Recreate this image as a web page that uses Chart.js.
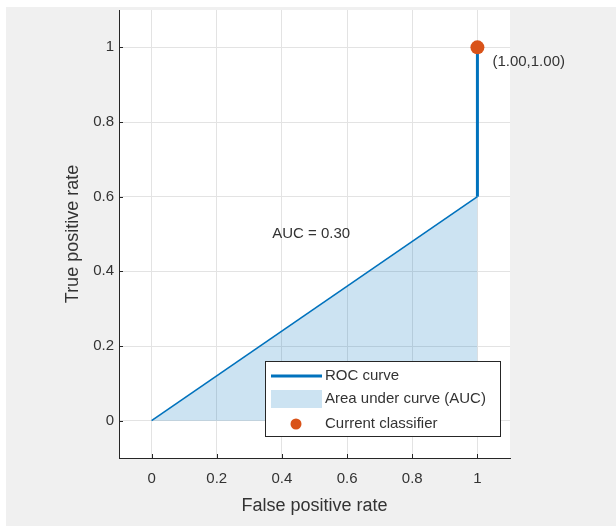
<!DOCTYPE html>
<html>
<head>
<meta charset="utf-8">
<script src="https://cdn.jsdelivr.net/npm/chart.js@4/dist/chart.umd.min.js"></script>
<style>
  html, body { margin: 0; padding: 0; background: #fff; }
  canvas { display: block; }
</style>
</head>
<body>
<canvas id="roc-chart" width="616" height="526"></canvas>
<script>
// ROC data
const fpr = [0, 1, 1];
const tpr = [0, 0.6, 1];

// current classifier point
const classifierX = [1];
const classifierY = [1];

const aucValue = 0.30;

// ticks
const tickValues = [0, 0.2, 0.4, 0.6, 0.8, 1];
const tickLabels = ["0", "0.2", "0.4", "0.6", "0.8", "1"];

const legendLabels = ["ROC curve", "Area under curve (AUC)", "Current classifier"];

const fontFamily = '"Liberation Sans", Arial, sans-serif';
const textColor = '#333333';
const blue = '#0072BD';
const areaColor = 'rgba(0, 114, 189, 0.2)';
const orange = '#D95319';

// figure background, white axes box, legend and text annotations
const matlabLook = {
    id: 'matlabLook',
    beforeDraw(chart) {
        const {ctx, chartArea} = chart;
        ctx.save();
        ctx.fillStyle = '#ffffff';
        ctx.fillRect(0, 0, chart.width, chart.height);
        ctx.fillStyle = '#f0f0f0';
        ctx.fillRect(6, 7, chart.width - 6, chart.height - 7);
        ctx.fillStyle = '#ffffff';
        ctx.fillRect(chartArea.left, chartArea.top, chartArea.right - chartArea.left, chartArea.bottom - chartArea.top);
        ctx.restore();
    },
    afterDraw(chart) {
        const {ctx, chartArea, scales} = chart;
        const x = scales.x, y = scales.y;
        ctx.save();

        // inward tick marks
        ctx.strokeStyle = '#262626';
        ctx.lineWidth = 1;
        ctx.beginPath();
        tickValues.forEach(v => {
            const py = Math.round(y.getPixelForValue(v)) + 0.5;
            ctx.moveTo(chartArea.left, py);
            ctx.lineTo(chartArea.left + 4, py);
            const px = Math.round(x.getPixelForValue(v)) + 0.5;
            ctx.moveTo(px, chartArea.bottom);
            ctx.lineTo(px, chartArea.bottom - 4);
        });
        ctx.stroke();

        // text annotations
        ctx.font = '15px ' + fontFamily;
        ctx.fillStyle = textColor;
        ctx.textBaseline = 'middle';
        ctx.textAlign = 'left';
        ctx.fillText('AUC = ' + aucValue.toFixed(2),
            x.getPixelForValue(0.37), y.getPixelForValue(0.5));
        const cx = x.getPixelForValue(classifierX[0]);
        const cy = y.getPixelForValue(classifierY[0]);
        ctx.fillText('(' + classifierX[0].toFixed(2) + ',' + classifierY[0].toFixed(2) + ')', cx + 15, cy + 15);

        // legend box
        const lx = 265, ly = 361, lw = 235, lh = 75;
        ctx.fillStyle = '#ffffff';
        ctx.fillRect(lx, ly, lw, lh);
        ctx.strokeStyle = '#262626';
        ctx.strokeRect(lx + 0.5, ly + 0.5, lw, lh);

        const rows = [ly + 15, ly + 38, ly + 63];
        // line sample
        ctx.strokeStyle = blue;
        ctx.lineWidth = 3;
        ctx.beginPath();
        ctx.moveTo(lx + 6, rows[0]);
        ctx.lineTo(lx + 57, rows[0]);
        ctx.stroke();
        // area sample
        ctx.fillStyle = areaColor;
        ctx.fillRect(lx + 6, rows[1] - 9, 51, 18);
        // marker sample
        ctx.fillStyle = orange;
        ctx.beginPath();
        ctx.arc(lx + 31, rows[2], 5.5, 0, Math.PI * 2);
        ctx.fill();

        ctx.fillStyle = textColor;
        legendLabels.forEach((lab, i) => ctx.fillText(lab, lx + 60, rows[i]));
        ctx.restore();
    }
};

const rocCanvas = document.getElementById('roc-chart');

const rocData = {
    datasets: [{
        label: legendLabels[2],
        data: classifierX.map((v, i) => ({x: v, y: classifierY[i]})),
        backgroundColor: orange,
        borderColor: orange,
        pointRadius: 7,
        pointBorderWidth: 0,
        showLine: false,
        order: 0
    }, {
        label: legendLabels[0],
        data: fpr.map((v, i) => ({x: v, y: tpr[i]})),
        showLine: true,
        borderColor: blue,
        borderWidth: 3,
        backgroundColor: areaColor,
        fill: 'origin',
        pointRadius: 0,
        tension: 0,
        segment: {
            borderWidth: ctx => ctx.p0DataIndex === 0 ? 1.6 : 3
        },
        order: 1
    }]
};

const axisCommon = {
    type: 'linear',
    min: -0.1,
    max: 1.1,
    afterBuildTicks: scale => {
        scale.ticks = tickValues.map(v => ({value: v}));
    },
    grid: {
        color: '#e3e3e3',
        drawTicks: false
    },
    border: {
        display: true,
        color: '#262626',
        width: 1
    }
};

const rocOptions = {
    responsive: false,
    animation: false,
    devicePixelRatio: 1,
    layout: {
        padding: {top: 10, right: 106, left: 0, bottom: 0}
    },
    scales: {
        x: {
            ...axisCommon,
            position: 'bottom',
            afterFit: scale => {
                scale.height = 68;
                scale.paddingLeft = 0;
                scale.paddingRight = 0;
            },
            ticks: {
                padding: 12,
                color: textColor,
                font: {family: fontFamily, size: 15},
                maxRotation: 0,
                callback: (v, i) => tickLabels[i]
            },
            title: {
                display: true,
                text: 'False positive rate',
                color: textColor,
                font: {family: fontFamily, size: 18},
                padding: {top: 0, bottom: 9}
            }
        },
        y: {
            ...axisCommon,
            position: 'left',
            afterFit: scale => {
                scale.width = 119;
                scale.paddingTop = 0;
                scale.paddingBottom = 0;
            },
            ticks: {
                padding: 5,
                color: textColor,
                font: {family: fontFamily, size: 15},
                callback: (v, i) => tickLabels[i]
            },
            title: {
                display: true,
                text: 'True positive rate',
                color: textColor,
                font: {family: fontFamily, size: 18},
                padding: {top: 62, bottom: 0}
            }
        }
    },
    plugins: {
        legend: {display: false},
        tooltip: {enabled: false}
    }
};

let rocChart = new Chart(rocCanvas, {
    type: 'scatter',
    data: rocData,
    options: rocOptions,
    plugins: [matlabLook]
});
</script>
</body>
</html>
